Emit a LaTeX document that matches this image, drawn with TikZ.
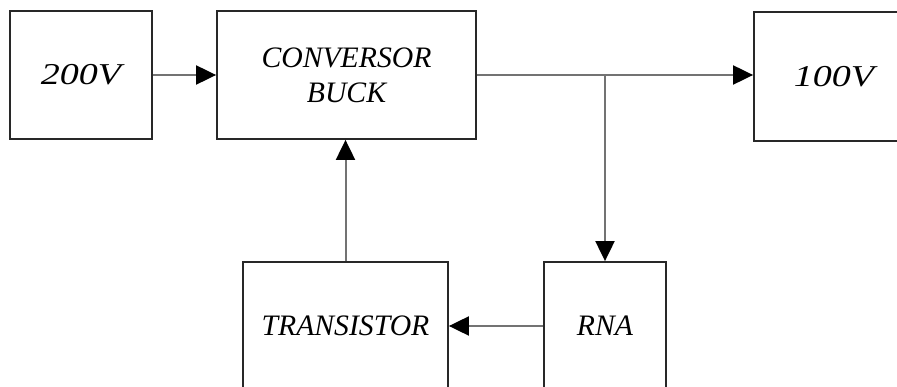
\documentclass[tikz,border=0pt]{standalone}
\usepackage{fontspec}
\setmainfont{Liberation Serif}
\usetikzlibrary{arrows.meta, positioning}
\definecolor{boxgray}{RGB}{40, 40, 40}
\definecolor{linegray}{RGB}{115, 115, 115}
\tikzset{
  >=Triangle,
  flowarrow/.style={-{Triangle[length=20pt, width=19pt, black]}, line width=2pt, linegray}
}
\newcommand{\volts}[1]{\scalebox{1.28}[1.02]{#1}}
\begin{document}
\begin{tikzpicture}[
    x=1pt, y=-1pt,
    box/.style={rectangle, draw=boxgray, line width=1.8pt, fill=white, inner sep=0pt, minimum height=128pt, align=center, font=\fontsize{29.7}{35}\selectfont\itshape}
]
    \useasboundingbox (0,0) rectangle (897,387);
    \clip (0,0) rectangle (897,387);
    \node[box, minimum width=142pt] (in) at (81,75) {\volts{200V}};
    \node[box, minimum width=259pt] (buck) at (346.5,75) {CONVERSOR\\BUCK};
    \node[box, minimum width=160pt, minimum height=129pt] (out) at (834,76.5) {\volts{100V}};
    \node[box, minimum width=205pt] (trans) at (345.5,326) {TRANSISTOR};
    \node[box, minimum width=122pt] (rna) at (605,326) {RNA};
    \coordinate (split) at (buck.east -| rna.north);

    \draw[flowarrow] (in) -- (buck);
    \draw[flowarrow] (buck.east) -- (buck.east -| out.west);
    \draw[flowarrow] (split) -- (rna);
    \draw[flowarrow] (rna) -- (trans);
    % feedback to the converter
    \draw[flowarrow] (trans.north) -- (trans.north |- buck.south);
\end{tikzpicture}
\end{document}
